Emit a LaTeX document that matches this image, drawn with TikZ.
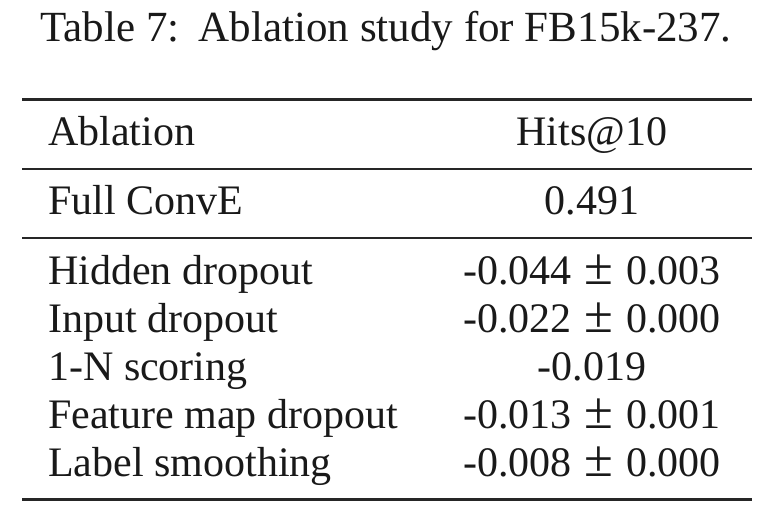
\documentclass[tikz,border=0pt]{standalone}
\usepackage{fontspec}
\setmainfont{Liberation Serif}
\newcommand{\pmsign}{\hspace{0.05em}\scalebox{1.25}{±}\hspace{0.05em}}
\begin{document}
\begin{tikzpicture}[x=1pt,y=-1pt,
  txt/.style={font=\fontsize{42}{50}\selectfont, inner sep=0pt, text=black!90},
  lft/.style={txt, anchor=base west},
  ctr/.style={txt, anchor=base},
  heavyrule/.style={line width=2.6pt, black!85},
  lightrule/.style={line width=1.6pt, black!85}]
\useasboundingbox (0,0) rectangle (772,512);
% caption
\node[ctr, font=\fontsize{43}{50}\selectfont] (cap) at (386,41) {Table 7:\hspace{0.45em}Ablation study for FB15k-237.};
% rules
\draw[heavyrule] (22,99.5) -- (752,99.5);
\draw[lightrule] (22,169) -- (752,169);
\draw[lightrule] (22,238) -- (752,238);
\draw[heavyrule] (22,499.5) -- (752,499.5);
% header
\node[lft] (h1) at (48,145) {Ablation};
\node[ctr] (h2) at (592,145) {Hits@10};
% full model
\node[lft] (f1) at (48,214) {Full ConvE};
\node[ctr] (f2) at (592,214) {0.491};
% ablations
\node[lft] (r1a) at (48,284) {Hidden dropout};
\node[ctr] (r1b) at (592,284) {-0.044 \pmsign{} 0.003};
\node[lft] (r2a) at (48,332) {Input dropout};
\node[ctr] (r2b) at (592,332) {-0.022 \pmsign{} 0.000};
\node[lft] (r3a) at (48,380) {1-N scoring};
\node[ctr] (r3b) at (592,380) {-0.019};
\node[lft] (r4a) at (48,428) {Feature map dropout};
\node[ctr] (r4b) at (592,428) {-0.013 \pmsign{} 0.001};
\node[lft] (r5a) at (48,476) {Label smoothing};
\node[ctr] (r5b) at (592,476) {-0.008 \pmsign{} 0.000};
\end{tikzpicture}
\end{document}
